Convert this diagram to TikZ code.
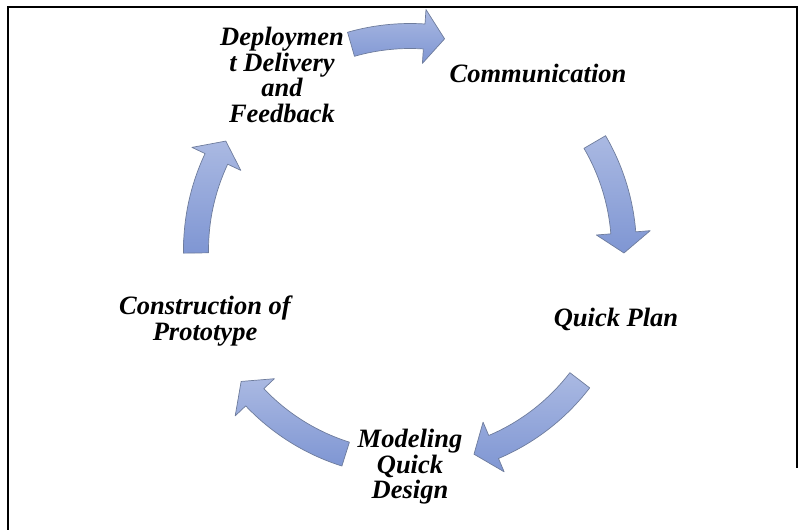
\documentclass[tikz,border=0pt]{standalone}
\usepackage{fontspec}
\setmainfont{Liberation Serif}
\usetikzlibrary{calc}

\definecolor{arrowtop}{HTML}{AAB9E2}
\definecolor{arrowbottom}{HTML}{7F96D3}
\definecolor{arrowline}{HTML}{6E7C9C}

\begin{document}
\begin{tikzpicture}[x=1pt, y=1pt,
  cyclearrow/.style={draw=arrowline, line width=0.7pt, line join=round,
    top color=arrowtop, bottom color=arrowbottom},
  steplabel/.style={font=\fontsize{26.5}{25.5}\selectfont\bfseries\itshape,
    align=center, inner sep=0pt}]

  \useasboundingbox (0,0) rectangle (806,530);

  % 外枠
  \draw[line width=1.5pt] (797,62) -- (797,523) -- (8,523) -- (8,0);

  % 円の中心と半径
  \coordinate (C) at (410,280);
  \pgfmathsetmacro{\R}{214}     % 矢印の中心線
  \pgfmathsetmacro{\Ro}{226.5}  % 胴の外側
  \pgfmathsetmacro{\Ri}{201.5}  % 胴の内側
  \pgfmathsetmacro{\Rbo}{241}   % 矢じりの外側
  \pgfmathsetmacro{\Rbi}{187}   % 矢じりの内側

  % 各工程のラベル
  \node[steplabel, anchor=north] (deploy) at (282,503) {Deploymen\\t Delivery\\and\\Feedback};
  \node[steplabel, anchor=base] (comm) at (538,447) {Communication};
  \node[steplabel, anchor=base] (plan) at (616,203) {Quick Plan};
  \node[steplabel, anchor=north] (model) at (410,101) {Modeling\\Quick\\Design};
  \node[steplabel, anchor=north] (build) at (205,234) {Construction of\\Prototype};

  % 円弧の矢印(時計回り)
  \draw[cyclearrow, shift={(C)}] (106:\Ro) arc[start angle=106, end angle=86.2, radius=\Ro]
    -- (86.2:\Rbo) -- (80.7:\R) -- (86.2:\Rbi) -- (86.2:\Ri)
    arc[start angle=86.2, end angle=106, radius=\Ri] -- cycle;
  \draw[cyclearrow, shift={(C)}] (30.3:\Ro) arc[start angle=30.3, end angle=4.6, radius=\Ro]
    -- (4.6:\Rbo) -- (-0.8:\R) -- (4.6:\Rbi) -- (4.6:\Ri)
    arc[start angle=4.6, end angle=30.3, radius=\Ri] -- cycle;
  \draw[cyclearrow, shift={(C)}] (-37.5:\Ro) arc[start angle=-37.5, end angle=-67, radius=\Ro]
    -- (-67:\Rbo) -- (-72.6:\R) -- (-67:\Rbi) -- (-67:\Ri)
    arc[start angle=-67, end angle=-37.5, radius=\Ri] -- cycle;
  \draw[cyclearrow, shift={(C)}] (-107.5:\Ro) arc[start angle=-107.5, end angle=-136.5, radius=\Ro]
    -- (-136.5:\Rbo) -- (-142.1:\R) -- (-136.5:\Rbi) -- (-136.5:\Ri)
    arc[start angle=-136.5, end angle=-107.5, radius=\Ri] -- cycle;
  \draw[cyclearrow, shift={(C)}] (180.8:\Ro) arc[start angle=180.8, end angle=154.8, radius=\Ro]
    -- (154.8:\Rbo) -- (149.4:\R) -- (154.8:\Rbi) -- (154.8:\Ri)
    arc[start angle=154.8, end angle=180.8, radius=\Ri] -- cycle;
\end{tikzpicture}
\end{document}
